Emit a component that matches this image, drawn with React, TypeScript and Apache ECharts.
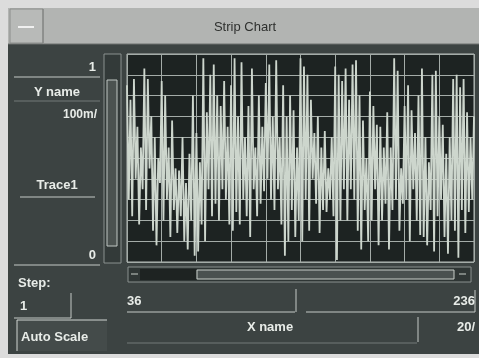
import React, { useEffect, useRef } from "react";
import * as echarts from "echarts";

const title = "Strip Chart";
const yName = "Y name";
const yScale = "100m/";
const traceName = "Trace1";
const yTickLabels = ["1", "0"];
const xTickLabels = ["36", "236"];
const xName = "X name";
const xScale = "20/";
const stepLabel = "Step:";
const stepValue = "1";
const autoScaleLabel = "Auto Scale";

const xStart = 36;
const traceValues = [
  0.85, 0.30, 0.78, 0.22, 0.88, 0.40, 0.65, 0.18, 0.55, 0.35,
  0.93, 0.25, 0.88, 0.45, 0.70, 0.15, 0.60, 0.08, 0.50, 0.38,
  0.87, 0.20, 0.80, 0.30, 0.55, 0.12, 0.68, 0.25, 0.45, 0.14,
  0.44, 0.22, 0.60, 0.10, 0.38, 0.06, 0.52, 0.20, 0.80, 0.03,
  0.62, 0.05, 0.48, 0.18, 0.98, 0.10, 0.72, 0.35, 0.90, 0.22,
  0.95, 0.28, 0.80, 0.20, 0.75, 0.35, 0.87, 0.30, 0.65, 0.18,
  0.85, 0.15, 0.98, 0.24, 0.70, 0.18, 0.96, 0.30, 0.60, 0.22,
  0.75, 0.12, 0.93, 0.35, 0.55, 0.22, 0.80, 0.28, 0.65, 0.34,
  0.86, 0.40, 0.95, 0.30, 0.70, 0.25, 0.97, 0.35, 0.60, 0.18,
  0.85, 0.03, 0.70, 0.10, 0.80, 0.25, 0.73, 0.12, 0.55, 0.20,
  0.98, 0.10, 0.94, 0.30, 0.90, 0.15, 0.78, 0.40, 0.62, 0.28,
  0.70, 0.14, 0.55, 0.25, 0.63, 0.24, 0.45, 0.30, 0.60, 0.22,
  0.94, 0.01, 0.90, 0.20, 0.87, 0.35, 0.93, 0.20, 0.78, 0.35,
  0.95, 0.30, 0.97, 0.15, 0.80, 0.06, 0.68, 0.25, 0.50, 0.10,
  0.82, 0.20, 0.75, 0.35, 0.66, 0.08, 0.65, 0.20, 0.55, 0.28,
  0.72, 0.06, 0.55, 0.25, 0.98, 0.30, 0.92, 0.15, 0.45, 0.28,
  0.75, 0.30, 0.85, 0.10, 0.73, 0.35, 0.62, 0.20, 0.80, 0.13,
  0.93, 0.12, 0.60, 0.08, 0.48, 0.25, 0.90, 0.05, 0.92, 0.22,
  0.70, 0.30, 0.66, 0.12, 0.52, 0.04, 0.60, 0.20, 0.88, 0.15,
  0.90, 0.02, 0.84, 0.25, 0.88, 0.14, 0.72, 0.24, 0.60, 0.30, 0.70,
];

const W = 479;
const H = 358;
const FONT = "'Liberation Sans', Arial, sans-serif";
const TXT = "#e8ece8";
const LINE = "#c4cac6";

export default function App() {
  const ref = useRef<HTMLDivElement>(null);
  useEffect(() => {
    if (!ref.current) return;
    const chart = echarts.init(ref.current, null, { renderer: "svg", width: W, height: H });
    const data = traceValues.map((v, i) => [xStart + i, v]);
    const xEnd = xStart + traceValues.length - 1;

    const txt = (x: number, y: number, text: string, align = "left", size = 13, fill = TXT, weight = "bold") => ({
      type: "text",
      x,
      y,
      silent: true,
      style: { text, fill, font: `${weight} ${size}px ${FONT}`, textAlign: align, textVerticalAlign: "middle" },
    });
    const ln = (x1: number, y1: number, x2: number, y2: number, stroke = LINE, lw = 1) => ({
      type: "line",
      silent: true,
      shape: { x1, y1, x2, y2 },
      style: { stroke, lineWidth: lw },
    });
    const rect = (x: number, y: number, w: number, h: number, fill: string, stroke?: string, lw = 1) => ({
      type: "rect",
      silent: true,
      shape: { x, y, width: w, height: h },
      style: { fill, stroke: stroke || "none", lineWidth: lw },
    });

    const graphics: any[] = [
      { ...rect(0, 0, W, H, "#dcdcdc"), z: -10 },
      { ...rect(8, 8, W - 8, 37, "#b2b4b2"), z: -9 },
      { ...rect(8, 44, W - 8, 310, "#3c4342"), z: -9 },
      { ...rect(10, 9, 33, 34, "#b8bab8", "#8c8e8c"), z: -8 },
      ln(18, 27, 34, 27, "#f0f0f0", 2),
      ln(43, 9, 43, 43, "#7c7e7c", 1),
      txt(245, 26, title, "center", 13, "#2e302e", "normal"),
      ln(8, 44, W, 44, "#6c706e", 1),
      txt(96, 66, yTickLabels[0], "right"),
      ln(14, 77, 100, 77),
      txt(57, 91, yName, "center"),
      ln(14, 101, 100, 101, "#737a78"),
      txt(97, 114, yScale, "right", 12),
      txt(57, 184, traceName, "center"),
      ln(20, 197, 95, 197),
      txt(96, 254, yTickLabels[1], "right"),
      ln(14, 265, 100, 265),
      rect(104, 54, 17, 209, "#333a39", "#8a918f"),
      rect(107, 80, 10, 166, "#4b5250", "#c0c6c3"),
      txt(18, 282, stepLabel, "left"),
      txt(20, 305, stepValue, "left"),
      ln(71, 293, 71, 318),
      ln(14, 318, 71, 318),
      rect(17, 320, 90, 31, "#444b4a"),
      ln(17, 320, 107, 320, "#d0d6d2"),
      ln(17, 320, 17, 351, "#d0d6d2"),
      txt(21, 336, autoScaleLabel, "left"),
      rect(128, 267, 343, 15, "#2f3635", "#8a918f"),
      rect(140, 269, 56, 11, "#1e2322"),
      rect(197, 270, 257, 9, "#4a5150", "#c8cec9"),
      ln(131, 274, 138, 274, "#c8cec9"),
      ln(459, 274, 466, 274, "#c8cec9"),
      txt(127, 300, xTickLabels[0], "left"),
      txt(475, 300, xTickLabels[1], "right"),
      ln(296, 289, 296, 312),
      ln(127, 312, 295, 312),
      ln(306, 312, 475, 312),
      ln(475, 290, 475, 312),
      txt(270, 326, xName, "center"),
      ln(418, 317, 418, 342),
      txt(475, 326, xScale, "right"),
      ln(127, 343, 417, 343, "#737a78"),
    ];

    chart.setOption({
      animation: false,
      backgroundColor: "transparent",
      grid: {
        left: 127,
        right: 5,
        top: 54,
        bottom: H - 262,
        show: true,
        backgroundColor: "#1d2322",
        borderColor: "#b8beba",
        borderWidth: 1,
      },
      xAxis: {
        type: "value",
        min: xStart,
        max: xEnd,
        interval: 20,
        axisLabel: { show: false },
        axisTick: { show: false },
        axisLine: { show: false },
        splitLine: { show: true, lineStyle: { color: "#a4aca8", width: 1 } },
      },
      yAxis: {
        type: "value",
        min: 0,
        max: 1,
        interval: 0.1,
        axisLabel: { show: false },
        axisTick: { show: false },
        axisLine: { show: false },
        splitLine: { show: true, lineStyle: { color: "#a4aca8", width: 1 } },
      },
      series: [
        {
          type: "line",
          name: traceName,
          data,
          showSymbol: false,
          lineStyle: { color: "#cdd6cd", width: 1.8 },
          z: 5,
        },
      ],
      graphic: graphics,
    });
    return () => chart.dispose();
  }, []);
  return <div ref={ref} style={{ position: "fixed", left: 0, top: 0, width: W, height: H }} />;
}
